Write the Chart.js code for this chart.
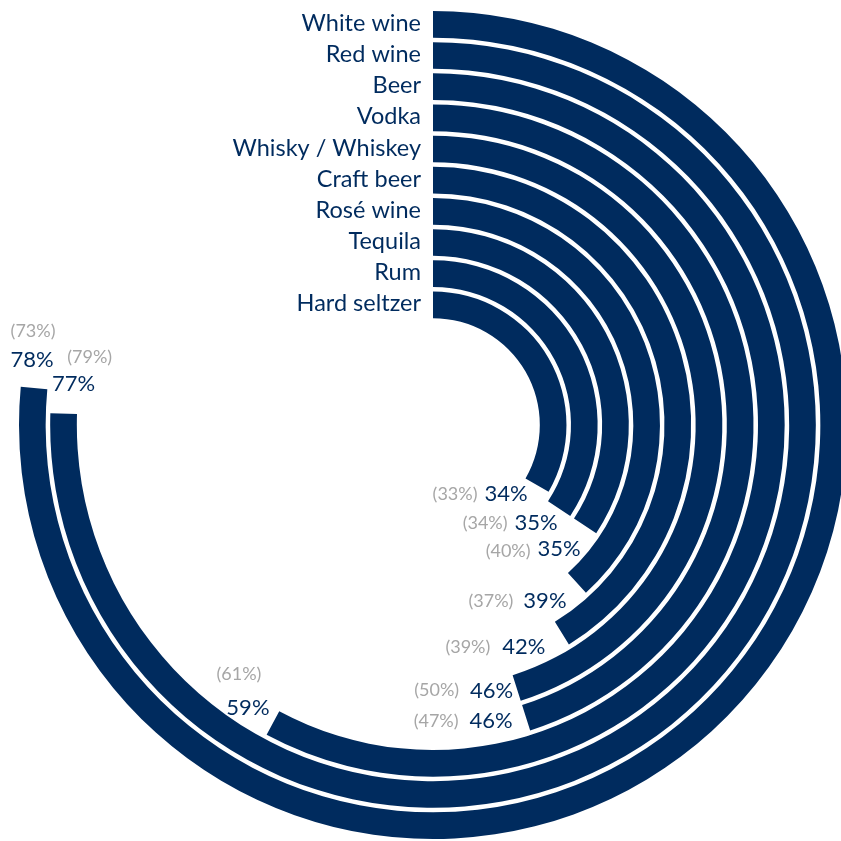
<!DOCTYPE html>
<html>
<head>
<meta charset="utf-8">
<script src="https://cdn.jsdelivr.net/npm/chart.js@4.4.1/dist/chart.umd.min.js"></script>
<style>
  html, body { margin: 0; padding: 0; background: #fff; overflow: hidden; width: 841px; height: 841px; }
  #drinksChart { position: absolute; left: 0; top: 0; }
</style>
</head>
<body>
<canvas id="drinksChart" width="866" height="850"></canvas>
<script>
//Drinks, outermost ring first
const drinks = ["White wine", "Red wine", "Beer", "Vodka", "Whisky / Whiskey", "Craft beer", "Rosé wine", "Tequila", "Rum", "Hard seltzer"];
//Current share in %
const currentShare = [78, 77, 59, 46, 46, 42, 39, 35, 35, 34];
//Previous share in %, shown in brackets
const previousShare = [73, 79, 61, 47, 50, 39, 37, 40, 34, 33];
//What a full turn of a ring stands for
const fullTurn = 102;

//Label placement, relative to the end of each arc (text centres)
const valueOffsets = [[-2, -28], [10, -30], [-25, -15], [-35, 3], [-25, 3], [-38, 14], [-32, 18], [-26, 23], [-23, 14], [-31, 9]];
const prevOffsets = [[-1, -57], [26, -56], [-34, -49], [-90, 3], [-80, 2], [-94, 14], [-86, 18], [-77, 25], [-74, 15], [-82, 9]];

const navy = "#002b5e";
const grey = "#a6a6a6";
const clear = "rgba(0,0,0,0)";
const gapWeight = 0.169;

//Build one ring per drink with a thin empty ring between them
const datasets = [];
drinks.forEach((name, i) => {
  if (i > 0) {
    datasets.push({ label: "", data: [fullTurn], backgroundColor: [clear], borderWidth: 0, weight: gapWeight });
  }
  datasets.push({
    label: name,
    ringIndex: i,
    data: [currentShare[i], fullTurn - currentShare[i]],
    backgroundColor: [navy, clear],
    borderWidth: 0,
    weight: 1,
  });
});

//Draws the drink names and the value labels
const ringLabels = {
  id: "ringLabels",
  afterDatasetsDraw(chart) {
    const ctx = chart.ctx;
    ctx.save();
    ctx.textBaseline = "middle";
    chart.data.datasets.forEach((ds, d) => {
      if (ds.ringIndex === undefined) return;
      const i = ds.ringIndex;
      const arc = chart.getDatasetMeta(d).data[0];
      const midR = (arc.innerRadius + arc.outerRadius) / 2;

      //Name left of where the ring starts
      ctx.font = "23.5px Lato";
      ctx.fillStyle = navy;
      ctx.textAlign = "right";
      ctx.fillText(ds.label, arc.x - 12, arc.y - midR - 1);

      //Values near the end of the arc
      const ex = arc.x + midR * Math.cos(arc.endAngle);
      const ey = arc.y + midR * Math.sin(arc.endAngle);
      ctx.textAlign = "center";
      ctx.font = "22px Lato";
      ctx.fillStyle = navy;
      ctx.fillText(currentShare[i] + "%", ex + valueOffsets[i][0], ey + valueOffsets[i][1]);
      ctx.font = "18px Lato";
      ctx.fillStyle = grey;
      ctx.fillText("(" + previousShare[i] + "%)", ex + prevOffsets[i][0], ey + prevOffsets[i][1]);
    });
    ctx.restore();
  },
};

new Chart(document.getElementById("drinksChart"), {
  type: "doughnut",
  data: { labels: ["Share", "Rest"], datasets },
  options: {
    responsive: false,
    animation: false,
    events: [],
    cutout: "25.8%",
    layout: { padding: { left: 19, top: 11, right: 19, bottom: 11 } },
    plugins: { legend: { display: false }, tooltip: { enabled: false } },
  },
  plugins: [ringLabels],
});
</script>
</body>
</html>
